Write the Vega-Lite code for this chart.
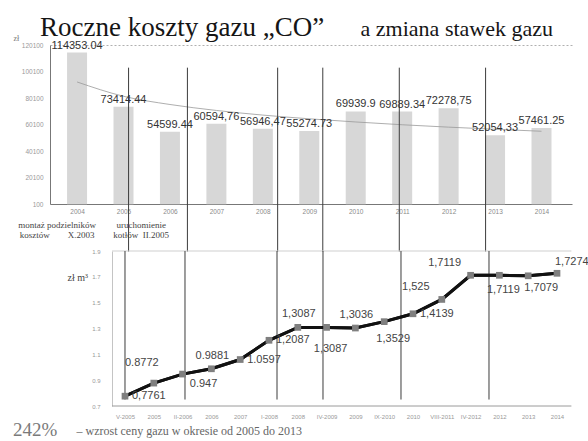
{
  "$schema": "https://vega.github.io/schema/vega-lite/v6.json",
  "background": "white",
  "padding": {"left": 13, "top": 14, "right": 0, "bottom": 3},
  "config": {"view": {"stroke": null}, "text": {"font": "Liberation Sans"}, "axis": {"labelFont": "Liberation Sans", "labelOverlap": false, "labelFlush": false}},
  "title": {"text": "Roczne koszty gazu „CO”", "anchor": "start", "font": "Liberation Serif", "fontSize": 27, "fontWeight": "normal", "color": "#151515", "baseline": "alphabetic", "offset": -17, "dx": 27, "dy": 28},
  "bounds": "flush",
  "spacing": 47,
  "datasets": {
    "costs": [
      {"year": 2004, "cost": 114353.04, "label": "114353.04", "trend": 92200},
      {"year": 2005, "cost": 73414.44, "label": "73414.44", "trend": 81400},
      {"year": 2006, "cost": 54599.44, "label": "54599.44", "trend": 75200},
      {"year": 2007, "cost": 60594.76, "label": "60594,76", "trend": 70700},
      {"year": 2008, "cost": 56946.47, "label": "56946,47", "trend": 67200},
      {"year": 2009, "cost": 55274.73, "label": "55274.73", "trend": 64400},
      {"year": 2010, "cost": 69939.9, "label": "69939.9", "trend": 62000},
      {"year": 2011, "cost": 69889.34, "label": "69889.34", "trend": 59900},
      {"year": 2012, "cost": 72278.75, "label": "72278,75", "trend": 58100},
      {"year": 2013, "cost": 52054.33, "label": "52054,33", "trend": 56500},
      {"year": 2014, "cost": 57461.25, "label": "57461.25", "trend": 55000}
    ],
    "prices": [
      {"i": 0, "period": "V-2005", "price": 0.7761, "label": "0,7761"},
      {"i": 1, "period": "2005", "price": 0.8772, "label": "0.8772"},
      {"i": 2, "period": "II-2006", "price": 0.947, "label": "0.947"},
      {"i": 3, "period": "2006", "price": 0.9881, "label": "0.9881"},
      {"i": 4, "period": "2007", "price": 1.0597, "label": "1.0597"},
      {"i": 5, "period": "I-2008", "price": 1.2087, "label": "1,2087"},
      {"i": 6, "period": "2008", "price": 1.3087, "label": "1,3087"},
      {"i": 7, "period": "IV-2009", "price": 1.3087, "label": "1,3087"},
      {"i": 8, "period": "2009", "price": 1.3036, "label": "1,3036"},
      {"i": 9, "period": "IX-2010", "price": 1.3529, "label": "1,3529"},
      {"i": 10, "period": "2010", "price": 1.4139, "label": "1,4139"},
      {"i": 11, "period": "VIII-2011", "price": 1.525, "label": "1,525"},
      {"i": 12, "period": "IV-2012", "price": 1.7119, "label": "1,7119"},
      {"i": 13, "period": "2012", "price": 1.7119, "label": "1,7119"},
      {"i": 14, "period": "2013", "price": 1.7079, "label": "1,7079"},
      {"i": 15, "period": "2014", "price": 1.7274, "label": "1,7274"}
    ],
    "changes": [
      {"yr": 2005.109, "i": 0},
      {"yr": 2006.376, "i": 2.083},
      {"yr": 2008.319, "i": 5.278},
      {"yr": 2009.291, "i": 6.875},
      {"yr": 2010.938, "i": 9.583},
      {"yr": 2012.796, "i": 12.639}
    ],
    "notes": [
      {"yr": 2003.57, "note": "montaż podzielników\nkosztów\u00a0\u00a0\u00a0\u00a0\u00a0\u00a0\u00a0 X.2003"},
      {"yr": 2005.38, "note": "uruchomienie\nkotłów\u00a0 II.2005"}
    ]
  },
  "vconcat": [
    {
      "width": 522,
      "height": 159,
      "title": {"text": "a zmiana stawek gazu", "anchor": "end", "frame": "group", "font": "Liberation Serif", "fontSize": 22, "fontWeight": "normal", "color": "#151515", "baseline": "alphabetic", "offset": 8, "dx": -19, "dy": 32},
      "resolve": {"axis": {"x": "independent", "y": "independent"}},
      "layer": [
        {
          "data": {"name": "costs"},
          "mark": {"type": "bar", "width": 20, "color": "#d7d7d7"},
          "encoding": {
            "x": {"field": "year", "type": "quantitative", "scale": {"domain": [2003.525, 2014.549], "nice": false, "zero": false},
              "axis": {"values": [2004, 2005, 2006, 2007, 2008, 2009, 2010, 2011, 2012, 2013, 2014], "format": "d", "title": null, "grid": false, "ticks": false, "domainColor": "#777", "labelFontSize": 6.5, "labelColor": "#8a8a8a", "labelPadding": 4, "labelFlush": false, "labelOverlap": false}},
            "y": {"field": "cost", "type": "quantitative", "scale": {"domain": [100, 120100], "nice": false, "zero": false},
              "axis": {"values": [100, 20100, 40100, 60100, 80100, 100100, 120100], "format": "d", "title": "zł", "titleAngle": 0, "titleX": -37, "titleY": -5, "titleAlign": "left", "titleBaseline": "alphabetic", "titleFont": "Liberation Serif", "titleFontSize": 8, "titleFontWeight": "normal", "titleColor": "#777", "ticks": false, "domainColor": "#777", "labelFontSize": 6.5, "labelColor": "#9a9a9a", "labelPadding": 7, "labelOverlap": false, "grid": true, "gridColor": "#b0b0b0", "gridDash": [2, 2], "gridOpacity": {"condition": {"test": "datum.value === 120100", "value": 1}, "value": 0}}}
          }
        },
        {
          "data": {"name": "costs"},
          "mark": {"type": "line", "color": "#9a9a9a", "strokeWidth": 1, "interpolate": "monotone", "opacity": 0.8},
          "encoding": {
            "x": {"field": "year", "type": "quantitative", "axis": null},
            "y": {"field": "trend", "type": "quantitative", "axis": null}
          }
        },
        {
          "data": {"name": "changes"},
          "mark": {"type": "rule", "color": "#3c3c3c", "strokeWidth": 1, "clip": false},
          "encoding": {
            "x": {"field": "yr", "type": "quantitative", "axis": null},
            "y": {"datum": 103000, "axis": null},
            "y2": {"datum": -35800}
          }
        },
        {
          "data": {"name": "costs"},
          "mark": {"type": "text", "dy": -4, "baseline": "alphabetic", "fontSize": 11, "color": "#333"},
          "encoding": {
            "x": {"field": "year", "type": "quantitative", "axis": null},
            "y": {"field": "cost", "type": "quantitative", "axis": null},
            "text": {"field": "label"}
          }
        },
        {
          "data": {"name": "notes"},
          "mark": {"type": "text", "font": "Liberation Serif", "fontSize": 9, "color": "#444", "align": "center", "baseline": "top", "lineBreak": "\n", "lineHeight": 10, "clip": false},
          "encoding": {
            "x": {"field": "yr", "type": "quantitative", "axis": null},
            "y": {"datum": -13000, "axis": null},
            "text": {"field": "note"}
          }
        }
      ]
    },
    {
      "width": 522,
      "height": 155,
      "title": {"text": "242%", "orient": "bottom", "anchor": "start", "frame": "group", "font": "Liberation Serif", "fontSize": 19, "fontWeight": "normal", "color": "#7a7a7a", "baseline": "alphabetic", "offset": 0, "dx": -37},
      "resolve": {"axis": {"x": "independent", "y": "independent"}},
      "layer": [
        {
          "data": {"name": "prices"},
          "mark": {"type": "line", "color": "#111", "strokeWidth": 3},
          "encoding": {
            "x": {"field": "i", "type": "quantitative", "scale": {"domain": [-2.604, 15.521], "nice": false, "zero": false},
              "axis": {"values": [0, 1, 2, 3, 4, 5, 6, 7, 8, 9, 10, 11, 12, 13, 14, 15], "labelExpr": "['V-2005','2005','II-2006','2006','2007','I-2008','2008','IV-2009','2009','IX-2010','2010','VIII-2011','IV-2012','2012','2013','2014'][datum.value]", "domain": false, "ticks": false, "grid": false, "labelFontSize": 6, "labelColor": "#999", "labelPadding": 7, "labelOverlap": false, "labelFlush": false, "labelBound": false, "title": "– wzrost ceny gazu w okresie od 2005 do 2013", "titleX": 26, "titleY": 28, "titleAlign": "left", "titleBaseline": "alphabetic", "titleFont": "Liberation Serif", "titleFontSize": 12, "titleFontWeight": "normal", "titleColor": "#666"}},
            "y": {"field": "price", "type": "quantitative", "scale": {"domain": [0.7, 1.9], "nice": false, "zero": false},
              "axis": {"values": [0.7, 0.9, 1.1, 1.3, 1.5, 1.7, 1.9], "format": ".1f", "offset": -62, "grid": false, "ticks": false, "domainColor": "#c4c4c4", "labelFontSize": 6, "labelColor": "#999", "labelPadding": 12, "labelOverlap": false, "title": "zł m³", "titleAngle": 0, "titleX": -45, "titleY": 29, "titleAlign": "left", "titleBaseline": "alphabetic", "titleFont": "Liberation Serif", "titleFontSize": 10, "titleFontWeight": "normal", "titleColor": "#444"}}
          }
        },
        {
          "data": {"values": [{}]},
          "mark": {"type": "rule", "color": "#cfcfcf"},
          "encoding": {"x": {"datum": -0.45, "axis": null}, "x2": {"datum": 15.5}, "y": {"datum": 1.9, "axis": null}}
        },
        {
          "data": {"values": [{}]},
          "mark": {"type": "rule", "color": "#9a9a9a"},
          "encoding": {"x": {"datum": -0.45, "axis": null}, "x2": {"datum": 15.5}, "y": {"datum": 0.7, "axis": null}}
        },
        {
          "data": {"name": "changes"},
          "mark": {"type": "rule", "color": "#3c3c3c", "strokeWidth": 1},
          "encoding": {"x": {"field": "i", "type": "quantitative", "axis": null}, "y": {"datum": 1.9, "axis": null}, "y2": {"datum": 0.75}}
        },
        {
          "data": {"name": "prices"},
          "mark": {"type": "line", "color": "#111", "strokeWidth": 3},
          "encoding": {"x": {"field": "i", "type": "quantitative", "axis": null}, "y": {"field": "price", "type": "quantitative", "axis": null}}
        },
        {
          "data": {"name": "prices"},
          "mark": {"type": "point", "shape": "square", "filled": true, "size": 45, "color": "#7f7f7f", "opacity": 1},
          "encoding": {"x": {"field": "i", "type": "quantitative", "axis": null}, "y": {"field": "price", "type": "quantitative", "axis": null}}
        },
        {
          "data": {"name": "prices"},
          "transform": [{"filter": {"field": "period", "oneOf": ["V-2005", "2007", "I-2008", "2010"]}}],
          "mark": {"type": "text", "align": "left", "baseline": "middle", "dx": 7, "fontSize": 11, "color": "#444"},
          "encoding": {"x": {"field": "i", "type": "quantitative", "axis": null}, "y": {"field": "price", "type": "quantitative", "axis": null}, "text": {"field": "label"}}
        },
        {
          "data": {"name": "prices"},
          "transform": [{"filter": {"field": "period", "oneOf": ["2006", "2008", "2009"]}}],
          "mark": {"type": "text", "align": "center", "baseline": "alphabetic", "dx": 1, "dy": -10, "fontSize": 11, "color": "#444"},
          "encoding": {"x": {"field": "i", "type": "quantitative", "axis": null}, "y": {"field": "price", "type": "quantitative", "axis": null}, "text": {"field": "label"}}
        },
        {
          "data": {"name": "prices"},
          "transform": [{"filter": {"field": "period", "oneOf": ["VIII-2011", "IV-2012"]}}],
          "mark": {"type": "text", "align": "center", "baseline": "alphabetic", "dx": -26, "dy": -9, "fontSize": 11, "color": "#444"},
          "encoding": {"x": {"field": "i", "type": "quantitative", "axis": null}, "y": {"field": "price", "type": "quantitative", "axis": null}, "text": {"field": "label"}}
        },
        {
          "data": {"name": "prices"},
          "transform": [{"filter": {"field": "period", "oneOf": ["2005"]}}],
          "mark": {"type": "text", "align": "center", "baseline": "alphabetic", "dx": -12, "dy": -17, "fontSize": 11, "color": "#444"},
          "encoding": {"x": {"field": "i", "type": "quantitative", "axis": null}, "y": {"field": "price", "type": "quantitative", "axis": null}, "text": {"field": "label"}}
        },
        {
          "data": {"name": "prices"},
          "transform": [{"filter": {"field": "period", "oneOf": ["2014"]}}],
          "mark": {"type": "text", "align": "left", "baseline": "alphabetic", "dx": -2, "dy": -8, "fontSize": 11, "color": "#444"},
          "encoding": {"x": {"field": "i", "type": "quantitative", "axis": null}, "y": {"field": "price", "type": "quantitative", "axis": null}, "text": {"field": "label"}}
        },
        {
          "data": {"name": "prices"},
          "transform": [{"filter": {"field": "period", "oneOf": ["IX-2010"]}}],
          "mark": {"type": "text", "align": "center", "baseline": "alphabetic", "dx": 9, "dy": 20, "fontSize": 11, "color": "#444"},
          "encoding": {"x": {"field": "i", "type": "quantitative", "axis": null}, "y": {"field": "price", "type": "quantitative", "axis": null}, "text": {"field": "label"}}
        },
        {
          "data": {"name": "prices"},
          "transform": [{"filter": {"field": "period", "oneOf": ["2012"]}}],
          "mark": {"type": "text", "align": "center", "baseline": "alphabetic", "dx": 4, "dy": 18, "fontSize": 11, "color": "#444"},
          "encoding": {"x": {"field": "i", "type": "quantitative", "axis": null}, "y": {"field": "price", "type": "quantitative", "axis": null}, "text": {"field": "label"}}
        },
        {
          "data": {"name": "prices"},
          "transform": [{"filter": {"field": "period", "oneOf": ["2013"]}}],
          "mark": {"type": "text", "align": "center", "baseline": "alphabetic", "dx": 13, "dy": 15, "fontSize": 11, "color": "#444"},
          "encoding": {"x": {"field": "i", "type": "quantitative", "axis": null}, "y": {"field": "price", "type": "quantitative", "axis": null}, "text": {"field": "label"}}
        },
        {
          "data": {"name": "prices"},
          "transform": [{"filter": {"field": "period", "oneOf": ["II-2006"]}}],
          "mark": {"type": "text", "align": "center", "baseline": "alphabetic", "dx": 21, "dy": 13, "fontSize": 11, "color": "#444"},
          "encoding": {"x": {"field": "i", "type": "quantitative", "axis": null}, "y": {"field": "price", "type": "quantitative", "axis": null}, "text": {"field": "label"}}
        },
        {
          "data": {"name": "prices"},
          "transform": [{"filter": {"field": "period", "oneOf": ["IV-2009"]}}],
          "mark": {"type": "text", "align": "center", "baseline": "alphabetic", "dx": 4, "dy": 25, "fontSize": 11, "color": "#444"},
          "encoding": {"x": {"field": "i", "type": "quantitative", "axis": null}, "y": {"field": "price", "type": "quantitative", "axis": null}, "text": {"field": "label"}}
        }
      ]
    }
  ]
}
